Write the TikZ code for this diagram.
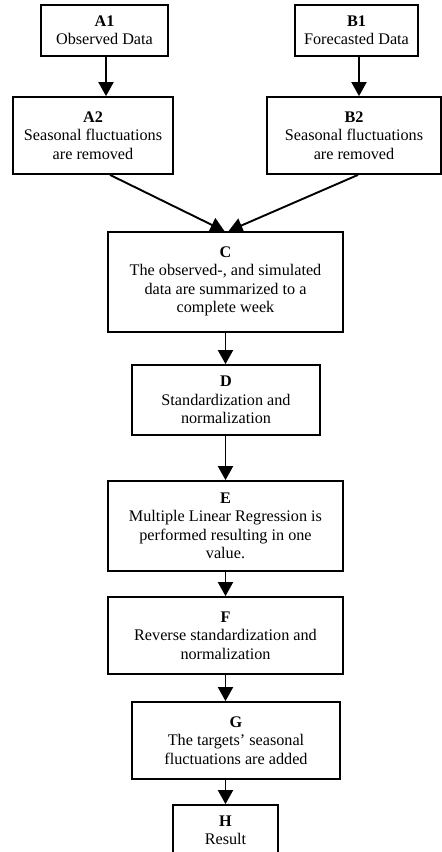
\documentclass[tikz,border=0pt]{standalone}
\usepackage{fontspec}
\setmainfont{Liberation Serif}
\usetikzlibrary{arrows.meta}
\begin{document}
\begin{tikzpicture}[x=1pt,y=-1pt,
  box/.style={draw, line width=1.8pt, inner sep=0pt, align=center,
    font=\fontsize{16.2}{18.4}\selectfont},
  arr/.style={line width=1.9pt, -{Triangle[width=15pt,length=14pt]}}]
\useasboundingbox (0,0) rectangle (442,852);
\node[box, minimum width=127pt, minimum height=51pt] (A1) at (104.5,30.5) {\textbf{A1}\\Observed Data};
\node[box, minimum width=123pt, minimum height=51pt] (B1) at (356.5,30.5) {\textbf{B1}\\Forecasted Data};
\node[box, minimum width=160pt, minimum height=77pt] (A2) at (93,135.5) {\textbf{A2}\\Seasonal fluctuations\\are removed};
\node[box, minimum width=174pt, minimum height=77pt] (B2) at (354,135.5) {\textbf{B2}\\Seasonal fluctuations\\are removed};
\node[box, minimum width=235pt, minimum height=100pt] (C) at (225.5,282) {\textbf{C}\\The observed-, and simulated\\data are summarized to a\\complete week\\[-14pt]\mbox{}};
\node[box, minimum width=188pt, minimum height=70pt] (D) at (226,400) {\textbf{D}\\Standardization and\\normalization};
\node[box, minimum width=235pt, minimum height=90pt] (E) at (225.5,526) {\textbf{E}\\Multiple Linear Regression is\\performed resulting in one\\value.};
\node[box, minimum width=235pt, minimum height=77pt] (F) at (225.5,635.5) {\textbf{F}\\Reverse standardization and\\normalization};
\node[box, minimum width=208pt, minimum height=77pt] (G) at (236,740.5) {\textbf{G}\\The targets’ seasonal\\fluctuations are added};
\node[box, minimum width=105pt, minimum height=50pt] (H) at (225.5,830) {\textbf{H}\\Result};
\draw[arr] ([xshift=1.5pt]A1.south) -- ([xshift=1.5pt]A1.south |- A2.north);
\draw[arr] ([xshift=2.5pt]B1.south) -- ([xshift=2.5pt]B1.south |- B2.north);
\draw[arr] ([xshift=17pt]A2.south) -- ([xshift=-1pt]C.north);
\draw[arr] ([xshift=4pt]B2.south) -- ([xshift=3pt]C.north);
\draw[arr] (C.south) -- (C.south |- D.north);
\draw[arr] (C.south |- D.south) -- (C.south |- E.north);
\draw[arr] (E.south) -- (E.south |- F.north);
\draw[arr] (F.south) -- (F.south |- G.north);
\draw[arr] (H.north |- G.south) -- (H.north);
\end{tikzpicture}
\end{document}
